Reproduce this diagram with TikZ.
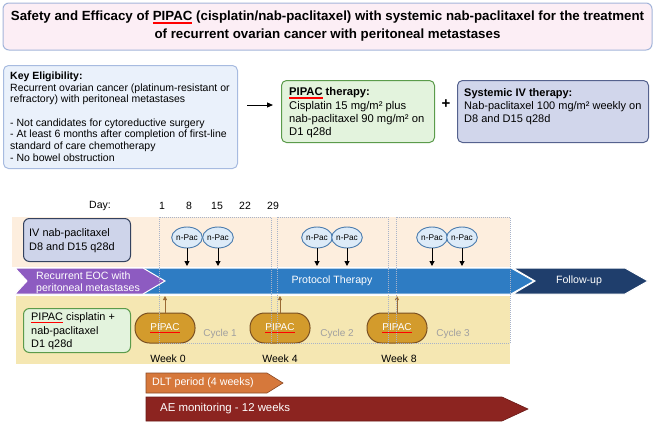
\documentclass[tikz,border=0pt]{standalone}
\usepackage{fontspec}
\setmainfont{Liberation Sans}
\usetikzlibrary{arrows.meta,shapes.geometric}
\definecolor{titleF}{HTML}{FCEEF5}
\definecolor{titleB}{HTML}{A3B5DA}
\definecolor{eligF}{HTML}{EAF1FB}
\definecolor{eligB}{HTML}{A7BBE0}
\definecolor{greenF}{HTML}{E3F3DD}
\definecolor{greenB}{HTML}{5B9B4B}
\definecolor{sysF}{HTML}{D1D6EB}
\definecolor{sysB}{HTML}{55628E}
\definecolor{bandO}{HTML}{FDEEDE}
\definecolor{bandY}{HTML}{F5E7B2}
\definecolor{ivF}{HTML}{CED4EA}
\definecolor{ivB}{HTML}{34425F}
\definecolor{npacF}{HTML}{DDEBF8}
\definecolor{npacB}{HTML}{4A7BAD}
\definecolor{protoB}{HTML}{2E7CC3}
\definecolor{navy}{HTML}{1F3E6C}
\definecolor{purp}{HTML}{8D5BC1}
\definecolor{capF}{HTML}{D39B2C}
\definecolor{capB}{HTML}{7A5022}
\definecolor{brownA}{HTML}{9A6A33}
\definecolor{cycT}{HTML}{A0A0A0}
\definecolor{dltF}{HTML}{D6783B}
\definecolor{dltB}{HTML}{8C4B27}
\definecolor{aeF}{HTML}{8C2420}
\definecolor{aeB}{HTML}{6A1A17}
\definecolor{dashG}{HTML}{A8B3C9}
\newcommand\redul[2][black]{\begingroup\setbox0\hbox{#2}\rlap{\color{#1}\copy0}{\color{red}\raisebox{-2.6pt}{\rule{\wd0}{1.1pt}}}\endgroup}
\tikzset{
  box/.style={draw, rounded corners=5pt, line width=1pt, inner sep=0pt},
  txt/.style={inner sep=0pt, align=left, font=\fontsize{11.2}{13.3}\selectfont},
  npac/.style={ellipse, draw=npacB, fill=npacF, line width=0.9pt, minimum width=30pt, minimum height=21pt, inner sep=0pt, font=\fontsize{8.3}{9}\selectfont},
  capsule/.style={draw=capB, fill=capF, line width=1pt, rounded corners=14.5pt, minimum width=60pt, minimum height=30pt, inner sep=0pt, text=white, font=\fontsize{10}{12}\selectfont},
  cyc/.style={dash pattern=on 1pt off 1pt, draw=dashG, line width=0.6pt},
  darr/.style={-{Triangle[length=5pt,width=5pt]}, line width=1pt, black},
  uarr/.style={-{Triangle[length=4pt,width=4pt]}, line width=0.8pt, brownA},
  lbl/.style={inner sep=0pt, font=\fontsize{10.5}{12}\selectfont},
  wlbl/.style={inner sep=0pt, text=white, font=\fontsize{10.6}{12}\selectfont},
}
\begin{document}
\begin{tikzpicture}[x=1pt,y=-1pt]
\useasboundingbox (0,0) rectangle (656,423);
% title
\node[box, draw=titleB, fill=titleF, minimum width=649pt, minimum height=47pt, rounded corners=6pt, align=center, font=\bfseries\fontsize{13.3}{18}\selectfont] (title) at (327.5,26.5)
 {Safety and Efficacy of \redul{PIPAC} (cisplatin/nab-paclitaxel) with systemic nab-paclitaxel for the treatment\\ of recurrent ovarian cancer with peritoneal metastases};
% eligibility
\node[box, draw=eligB, fill=eligF, minimum width=234pt, minimum height=103pt, anchor=north west] (elig) at (3,65) {};
\node[txt, anchor=west, font=\fontsize{10.5}{11.6}\selectfont] (eligtxt) at (10,116.5)
 {\textbf{Key Eligibility:}\\ Recurrent ovarian cancer (platinum-resistant or\\ refractory) with peritoneal metastases\\[12pt]
 - Not candidates for cytoreductive surgery\\ - At least 6 months after completion of first-line\\ standard of care chemotherapy\\ - No bowel obstruction};
% PIPAC therapy
\node[box, draw=greenB, fill=greenF, minimum width=153pt, minimum height=62pt, anchor=north west] (pipacbox) at (281,80) {};
\node[txt, anchor=west] (pipactxt) at (289,113)
 {\textbf{\redul{PIPAC} therapy:}\\ Cisplatin 15 mg/m² plus\\ nab-paclitaxel 90 mg/m² on\\ D1 q28d};
\coordinate (a0) at (247,105);
\draw[-{Triangle[length=6pt,width=5pt]}, line width=1pt] (a0) -- ([xshift=-8pt]a0 -| pipacbox.west);
\node[inner sep=0pt, font=\bfseries\fontsize{15}{15}\selectfont] (plus) at (446,104) {+};
% systemic
\node[box, draw=sysB, fill=sysF, minimum width=191pt, minimum height=62pt, anchor=north west] (sysbox) at (457,80) {};
\node[txt, anchor=west, font=\fontsize{11}{13.3}\selectfont] (systxt) at (464,106.5)
 {\textbf{Systemic IV therapy:}\\ Nab-paclitaxel 100 mg/m² weekly on\\ D8 and D15 q28d};
% bands
\fill[bandO] (12,217) rectangle (510,267);
\fill[bandY] (16,296) rectangle (510,364);
% day labels
\node[lbl] (dayl) at (100,206) {Day:};
\node[lbl] (d1) at (162,206) {1};
\node[lbl] (d8) at (189,206) {8};
\node[lbl] (d15) at (217,206) {15};
\node[lbl] (d22) at (245,206) {22};
\node[lbl] (d29) at (273,206) {29};
% IV box
\node[box, draw=ivB, fill=ivF, minimum width=107pt, minimum height=43pt, rounded corners=6pt, anchor=north west] (ivbox) at (23,218) {};
\node[txt, anchor=west, font=\fontsize{10.9}{14}\selectfont] (ivtxt) at (29,240.5) {IV nab-paclitaxel\\ D8 and D15 q28d};
% n-Pac
\coordinate (btop) at (0,266);
\coordinate (bbot) at (0,296);
\foreach \n/\x in {n1/187,n2/218,n3/317,n4/347,n5/432,n6/462}{
  \node[npac] (\n) at (\x,237.5) {n-Pac};
  \draw[darr] (\n.south) -- (\n.south |- btop);
}
% protocol arrow
\draw[white, line width=1pt, fill=protoB] (143,268) -- (511,268) -- (534,281) -- (511,294) -- (143,294) -- cycle;
\node[wlbl] (proto) at (332,281) {Protocol Therapy};
% follow-up
\draw[white, line width=1pt, fill=navy] (513,268) -- (625,268) -- (648,281) -- (625,294) -- (513,294) -- (535,281) -- cycle;
\node[wlbl] (follow) at (579,281) {Follow-up};
% purple
\draw[white, line width=1pt, fill=purp] (15,268) -- (143,268) -- (165,281) -- (143,294) -- (15,294) -- (27,281) -- cycle;
\node[wlbl, align=left, anchor=west, font=\fontsize{10.6}{12}\selectfont] (eoc) at (36,283) {Recurrent EOC with\\ peritoneal metastases};
% capsules
\node[capsule] (c1) at (165,328) {\redul[white]{PIPAC}};
\node[capsule] (c2) at (280,328) {\redul[white]{PIPAC}};
\node[capsule] (c3) at (397,328) {\redul[white]{PIPAC}};
\foreach \c in {c1,c2,c3}{ \draw[uarr] (\c.north) -- (\c.north |- bbot); }
% PIPAC cisplatin box
\node[box, draw=greenB, fill=greenF, minimum width=107pt, minimum height=44pt, rounded corners=6pt, anchor=north west] (pcbox) at (23,308) {};
\node[txt, anchor=west, font=\fontsize{10.9}{13.5}\selectfont] (pctxt) at (31,331.5) {\redul{PIPAC} cisplatin +\\ nab-paclitaxel\\ D1 q28d};
% cycle and week labels
\node[lbl, text=cycT, font=\fontsize{10}{12}\selectfont] (cy1) at (220,334) {Cycle 1};
\node[lbl, text=cycT, font=\fontsize{10}{12}\selectfont] (cy2) at (337,334) {Cycle 2};
\node[lbl, text=cycT, font=\fontsize{10}{12}\selectfont] (cy3) at (453,334) {Cycle 3};
\node[lbl] (w0) at (168,359) {Week 0};
\node[lbl] (w4) at (280,359) {Week 4};
\node[lbl] (w8) at (399,359) {Week 8};
% dashed cycle frames
\draw[cyc] (159,217) rectangle (271,343);
\draw[cyc] (277,217) rectangle (388,343);
\draw[cyc] (396,217) rectangle (510,343);
% DLT
\draw[dltB, line width=0.6pt, fill=dltF] (146,373) -- (267,373) -- (283,383) -- (267,393) -- (146,393) -- cycle;
\node[wlbl, anchor=west, font=\fontsize{10.7}{12}\selectfont] (dlt) at (152,383) {DLT period (4 weeks)};
% AE
\draw[aeB, line width=0.6pt, fill=aeF] (146,397) -- (502,397) -- (528,409) -- (502,421) -- (146,421) -- cycle;
\node[wlbl, anchor=west, font=\fontsize{11.4}{12}\selectfont] (ae) at (160,409) {AE monitoring - 12 weeks};
\end{tikzpicture}
\end{document}
